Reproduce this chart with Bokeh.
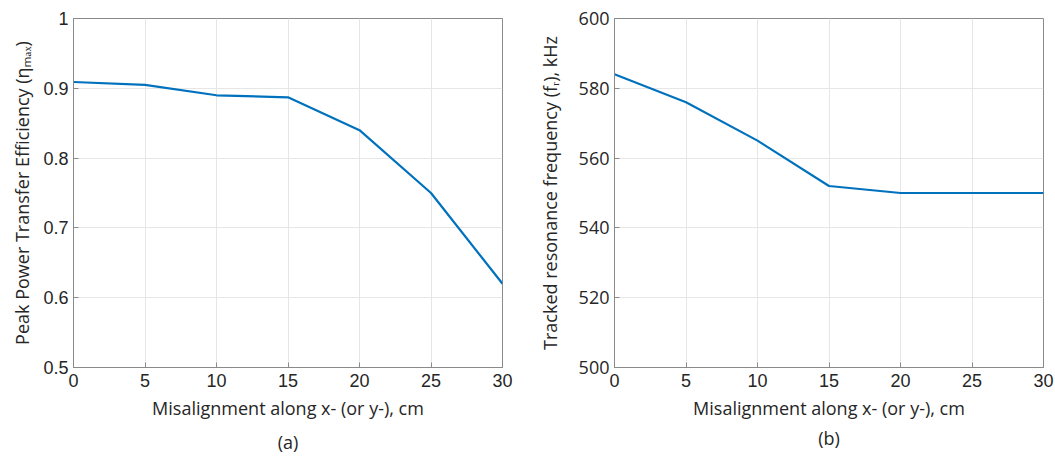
from bokeh.plotting import figure
from bokeh.layouts import row
from bokeh.models import FixedTicker, Title, ColumnDataSource
from bokeh.embed import file_html
from bokeh.resources import INLINE

misalignment = [0, 5, 10, 15, 20, 25, 30]
efficiency = [0.909, 0.905, 0.890, 0.887, 0.840, 0.750, 0.620]
frequency = [584, 576, 565, 552, 550, 550, 550]
x_ticks = [0, 5, 10, 15, 20, 25, 30]
eff_ticks = [0.5, 0.6, 0.7, 0.8, 0.9, 1.0]
freq_ticks = [500, 520, 540, 560, 580, 600]

LINE = "#0072BD"
AX = "#8a8a8a"
TXT = "#262626"


def style(p, xlabel, ylabel, tick_font, ytick_font, ylab_standoff):
    p.outline_line_color = AX
    p.outline_line_width = 1
    p.xgrid.grid_line_color = "#e6e6e6"
    p.ygrid.grid_line_color = "#e6e6e6"
    for ax in (p.xaxis[0], p.yaxis[0]):
        ax.axis_line_color = AX
        ax.major_tick_line_color = AX
        ax.major_tick_in = 5
        ax.major_tick_out = 0
        ax.minor_tick_line_color = None
        ax.major_label_text_color = TXT
        ax.major_label_text_font_size = "18px"
        ax.axis_label_text_font = "Open Sans"
        ax.axis_label_text_font_style = "normal"
        ax.axis_label_text_font_size = "18px"
        ax.axis_label_text_color = TXT
    p.xaxis[0].major_label_text_font = tick_font
    p.yaxis[0].major_label_text_font = ytick_font
    p.xaxis[0].axis_label = xlabel
    p.yaxis[0].axis_label = ylabel
    p.xaxis[0].ticker = FixedTicker(ticks=x_ticks)
    p.xaxis[0].axis_label_standoff = 6
    p.yaxis[0].axis_label_standoff = ylab_standoff
    p.xaxis[0].major_label_standoff = 6
    p.yaxis[0].major_label_standoff = 5


# Panel (a)
pa = figure(frame_width=429, frame_height=349, min_border_left=73, min_border_right=28,
            min_border_top=18, min_border_bottom=3,
            x_range=(0, 30), y_range=(0.5, 1.0),
            output_backend="svg", toolbar_location=None)
style(pa, "Misalignment along x- (or y-), cm",
      "Peak Power Transfer Efficiency (\u03b7\u2098\u2090\u2093)", "Liberation Sans", "Liberation Sans", 6)
pa.yaxis[0].ticker = FixedTicker(ticks=eff_ticks)
pa.yaxis[0].major_label_overrides = {1.0: "1", 1: "1"}
src_a = ColumnDataSource(dict(x=misalignment, y=efficiency))
pa.line("x", "y", source=src_a, line_color=LINE, line_width=2.2)
pa.add_layout(Title(text="(a)", align="center", text_font="Open Sans", text_font_size="18px",
                    text_font_style="normal", text_color=TXT, standoff=10), "below")

# Panel (b)
pb = figure(frame_width=429, frame_height=349, min_border_left=84, min_border_right=12,
            min_border_top=18, min_border_bottom=3,
            x_range=(0, 30), y_range=(500, 600),
            output_backend="svg", toolbar_location=None)
style(pb, "Misalignment along x- (or y-), cm",
      "Tracked resonance frequency (f\u1d63), kHz", "Liberation Sans", "Open Sans", 14)
pb.yaxis[0].ticker = FixedTicker(ticks=freq_ticks)
src_b = ColumnDataSource(dict(x=misalignment, y=frequency))
pb.line("x", "y", source=src_b, line_color=LINE, line_width=2.2)
pb.add_layout(Title(text="(b)", align="center", text_font="Open Sans", text_font_size="18px",
                    text_font_style="normal", text_color=TXT, standoff=2), "below")

layout = row(pa, pb, spacing=0)
open("out.html", "w").write(file_html(layout, INLINE))
